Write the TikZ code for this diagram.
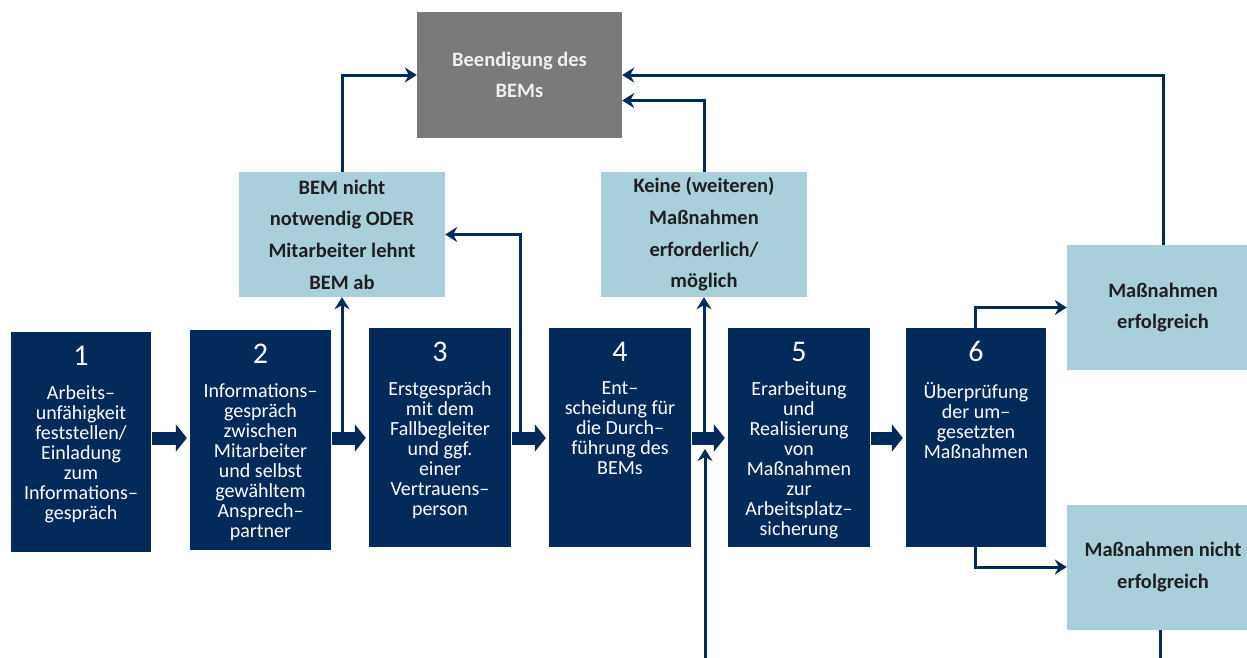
\documentclass[tikz,border=0pt]{standalone}
\usepackage{fontspec}
\setmainfont{Carlito}
\usetikzlibrary{arrows.meta,calc}
\definecolor{navy}{HTML}{012A5B}
\definecolor{lblue}{HTML}{A8CFDA}
\definecolor{dgray}{HTML}{7A7A7A}
\begin{document}
\begin{tikzpicture}[x=1pt,y=-1pt,
  dbox/.style={fill=navy, inner sep=0pt, minimum width=141pt, minimum height=219pt},
  numtxt/.style={text=white, font=\fontsize{30}{30}\selectfont, inner sep=0pt},
  dtxt/.style={text=white, font=\fontsize{20}{20}\selectfont, align=center, inner sep=0pt, anchor=north},
  lbox/.style={fill=lblue, inner sep=0pt, minimum width=206pt, minimum height=125pt, align=center,
    text=black!88, font=\bfseries\fontsize{20.5}{31.7}\selectfont},
  gbox/.style={fill=dgray, inner sep=0pt, minimum width=205pt, minimum height=126pt, align=center,
    text=white!94!black, font=\bfseries\fontsize{20.5}{30.5}\selectfont},
  conn/.style={draw=navy, line width=3pt, -{Stealth[length=12pt,width=15pt,inset=4pt]}},
  plain/.style={draw=navy, line width=3pt},
  fat/.style={draw=navy, line width=13pt, -{Triangle[length=11pt,width=27pt]}, shorten <=1pt, shorten >=3pt}
]
\useasboundingbox (0,0) rectangle (1247,657);
\clip (0,0) rectangle (1247,657);
\fill[white] (0,0) rectangle (1247,657);

% result boxes
\node[gbox] (end) at (519.5,75) {Beendigung des\\BEMs};
\node[lbox] (bem) at (342,234.5) {BEM nicht\\notwendig ODER\\Mitarbeiter lehnt\\BEM ab};
\node[lbox] (keine) at (704,234.5) {Keine (weiteren)\\Maßnahmen\\erforderlich/\\möglich};
\node[lbox, minimum width=192pt] (merf) at (1163,307.5) {Maßnahmen\\erfolgreich};
\node[lbox, minimum width=192pt] (mnerf) at (1163,567) {Maßnahmen nicht\\erfolgreich};

% process boxes
\node[dbox, minimum width=140pt, minimum height=220pt] (b1) at (81,442) {};
\node[dbox, minimum height=220pt] (b2) at (260.5,440) {};
\node[dbox, minimum width=142pt] (b3) at (440,437.5) {};
\node[dbox, minimum width=142pt] (b4) at (620,437.5) {};
\node[dbox, minimum width=142pt] (b5) at (799,437.5) {};
\node[dbox, minimum width=140pt] (b6) at (976,437.5) {};

\foreach \b/\n in {b1/1,b2/2,b3/3,b4/4,b5/5,b6/6}{
  \node[numtxt] (\b-num) at ($(\b.north)+(0,24)$) {\n};
}
\node[dtxt] (b1-txt) at ($(b1.north)+(0,54)$) {Arbeits–\\unfähigkeit\\feststellen/\\Einladung\\zum\\Informations–\\gespräch};
\node[dtxt] (b2-txt) at ($(b2.north)+(0,54)$) {Informations–\\gespräch\\zwischen\\Mitarbeiter\\und selbst\\gewähltem\\Ansprech–\\partner};
\node[dtxt] (b3-txt) at ($(b3.north)+(0,54)$) {Erstgespräch\\mit dem\\Fallbegleiter\\und ggf.\\einer\\Vertrauens–\\person};
\node[dtxt] (b4-txt) at ($(b4.north)+(0,54)$) {Ent–\\scheidung für\\die Durch–\\führung des\\BEMs};
\node[dtxt] (b5-txt) at ($(b5.north)+(0,54)$) {Erarbeitung\\und\\Realisierung\\von\\Maßnahmen\\zur\\Arbeitsplatz–\\sicherung};
\node[dtxt] (b6-txt) at ($(b6.north)+(0,54)$) {Überprüfung\\der um–\\gesetzten\\Maßnahmen};

% helper coordinates
\coordinate (ay) at (0,438);
\coordinate (k34) at (520,438);
\coordinate (inb) at (705,660);
\coordinate (inbtip) at (705,449);
\coordinate (outb) at (1160,660);

% thin connectors
\draw[conn] (bem.north) |- (end.west);
\draw[conn] (keine.north) |- ($(end.east)+(0,25.5)$);
\draw[conn] (merf.north) |- (end.east);
\draw[conn] (bem.south |- ay) -- (bem.south);
\draw[conn] (k34) |- (bem.east);
\draw[conn] (keine.south |- ay) -- (keine.south);
\draw[conn] (inb) -- (inbtip);
\draw[conn] ($(b6.north)+(-1,0)$) |- (merf.west);
\draw[conn] ($(b6.south)+(-1,0)$) |- (mnerf.west);
\draw[plain] (mnerf.south -| outb) -- (outb);

% fat arrows between steps
\draw[fat] (b1.east |- ay) -- (b2.west |- ay);
\draw[fat] (b2.east |- ay) -- (b3.west |- ay);
\draw[fat] (b3.east |- ay) -- (b4.west |- ay);
\draw[fat] (b4.east |- ay) -- (b5.west |- ay);
\draw[fat] (b5.east |- ay) -- (b6.west |- ay);
\end{tikzpicture}
\end{document}
